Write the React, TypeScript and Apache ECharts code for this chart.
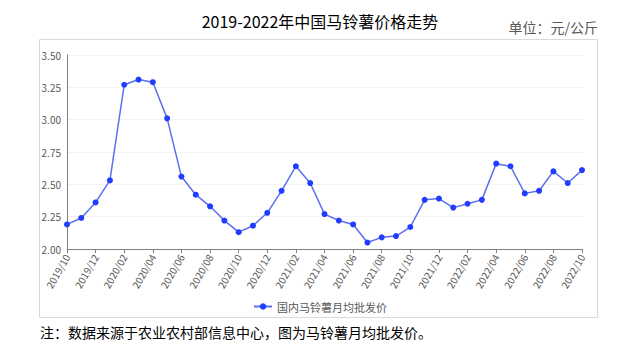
import React, { useEffect, useRef } from "react";
import * as echarts from "echarts";

const months: string[] = [
  "2019/10", "2019/11", "2019/12",
  "2020/01", "2020/02", "2020/03", "2020/04", "2020/05", "2020/06", "2020/07", "2020/08", "2020/09", "2020/10", "2020/11", "2020/12",
  "2021/01", "2021/02", "2021/03", "2021/04", "2021/05", "2021/06", "2021/07", "2021/08", "2021/09", "2021/10", "2021/11", "2021/12",
  "2022/01", "2022/02", "2022/03", "2022/04", "2022/05", "2022/06", "2022/07", "2022/08", "2022/09", "2022/10",
];

const prices: number[] = [
  2.19, 2.24, 2.36,
  2.53, 3.27, 3.31, 3.29, 3.01, 2.56, 2.42, 2.33, 2.22, 2.13, 2.18, 2.28,
  2.45, 2.64, 2.51, 2.27, 2.22, 2.19, 2.05, 2.09, 2.10, 2.17, 2.38, 2.39,
  2.32, 2.35, 2.38, 2.66, 2.64, 2.43, 2.45, 2.60, 2.51, 2.61,
];

const titleText = "2019-2022年中国马铃薯价格走势";
const unitText = "单位：元/公斤";
const seriesName = "国内马铃薯月均批发价";
const noteText = "注：数据来源于农业农村部信息中心，图为马铃薯月均批发价。";

const FONT = "'Noto Sans CJK SC', 'Noto Sans', sans-serif";

export default function App() {
  const ref = useRef<HTMLDivElement>(null);
  useEffect(() => {
    if (!ref.current) return;
    const chart = echarts.init(ref.current, undefined, { renderer: "svg" });
    chart.setOption({
      animation: false,
      backgroundColor: "#ffffff",
      textStyle: { fontFamily: FONT },
      title: {
        text: titleText,
        left: "center",
        top: 8,
        textStyle: { fontSize: 16, fontWeight: "normal", color: "#000000", fontFamily: FONT },
      },
      graphic: [
        {
          type: "rect",
          shape: { x: 39.5, y: 39.5, width: 558, height: 278 },
          style: { fill: "none", stroke: "#d9d9d9", lineWidth: 1 },
          silent: true,
          z: -1,
        },
        {
          type: "text",
          right: 42,
          top: 20,
          style: { text: unitText, fontSize: 14, fill: "#595959", fontFamily: FONT },
        },
        {
          type: "text",
          left: 40,
          top: 325,
          style: { text: noteText, fontSize: 14, fill: "#000000", fontFamily: FONT },
        },
      ],
      legend: {
        data: [seriesName],
        left: "center",
        top: 296,
        itemWidth: 18,
        itemHeight: 8,
        itemGap: 6,
        textStyle: { fontSize: 11, color: "#595959", fontFamily: FONT },
      },
      grid: { left: 67, right: 58, top: 55, bottom: 110, containLabel: false },
      xAxis: {
        type: "category",
        data: months,
        boundaryGap: false,
        axisLine: { lineStyle: { color: "#7f7f7f", width: 1 } },
        axisTick: { show: true, interval: 1, length: 4, lineStyle: { color: "#7f7f7f" } },
        axisLabel: { interval: 1, rotate: 60, fontSize: 10, color: "#595959", margin: 6, fontFamily: FONT },
        splitLine: { show: false },
      },
      yAxis: {
        type: "value",
        min: 2,
        max: 3.5,
        interval: 0.25,
        axisLine: { show: true, lineStyle: { color: "#7f7f7f", width: 1 } },
        axisTick: { show: false },
        axisLabel: {
          fontSize: 10,
          color: "#595959",
          margin: 6,
          fontFamily: FONT,
          formatter: (v: number) => v.toFixed(2),
        },
        splitLine: { show: true, lineStyle: { color: "#f3f3f3" } },
      },
      series: [
        {
          name: seriesName,
          type: "line",
          data: prices,
          symbol: "circle",
          symbolSize: 6,
          showSymbol: true,
          lineStyle: { color: "#5a6ff0", width: 1.5 },
          itemStyle: { color: "#1f3cff" },
        },
      ],
    });
    return () => chart.dispose();
  }, []);
  return (
    <div
      ref={ref}
      style={{ position: "absolute", left: 0, top: 0, width: 640, height: 359 }}
    />
  );
}
